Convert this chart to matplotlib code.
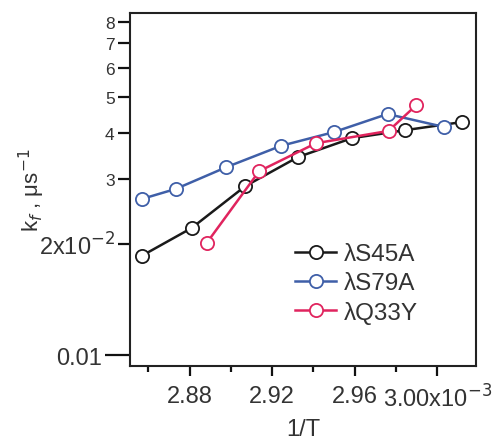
# kf vs 1/T for the three lambda repressor mutants (log scale)
import matplotlib
matplotlib.use('Agg')
import matplotlib.pyplot as plt
from matplotlib.ticker import FixedLocator, FixedFormatter

plt.rcParams['font.family'] = ['Liberation Sans', 'DejaVu Sans']
plt.rcParams.update({
    'xtick.bottom': True, 'xtick.top': False,
    'ytick.left': True, 'ytick.right': False,
    'xtick.direction': 'out', 'ytick.direction': 'out',
    'xtick.major.size': 7.5, 'xtick.minor.size': 4.5,
    'ytick.major.size': 18, 'ytick.minor.size': 9,
    'xtick.major.width': 1.6, 'xtick.minor.width': 1.6,
    'ytick.major.width': 1.6, 'ytick.minor.width': 1.6,
    'xtick.color': '#111111', 'ytick.color': '#111111',
    'xtick.labelcolor': '#333333', 'ytick.labelcolor': '#333333',
})

# 1/T values, in units of 1e-3 K^-1
invT_s45a = [2.857, 2.881, 2.907, 2.9325, 2.9586, 2.9846, 3.012]
kf_s45a = [0.0186, 0.0221, 0.0287, 0.0344, 0.0387, 0.0407, 0.0428]

invT_s79a = [2.857, 2.8733, 2.8978, 2.9243, 2.9499, 2.9759, 3.0034]
kf_s79a = [0.0265, 0.0282, 0.0323, 0.0369, 0.0402, 0.0450, 0.0415]

invT_q33y = [2.8882, 2.9137, 2.9412, 2.9764, 2.9899]
kf_q33y = [0.0201, 0.0315, 0.0375, 0.0405, 0.0476]

series = [
    (invT_s45a, kf_s45a, '#1a1a1a', 'λS45A'),
    (invT_s79a, kf_s79a, '#3f5fa8', 'λS79A'),
    (invT_q33y, kf_q33y, '#e0245e', 'λQ33Y'),
]

# only 0.01 is a major y tick, the rest are labelled minors
y_major = [0.01]
y_minor = [0.02, 0.03, 0.04, 0.05, 0.06, 0.07, 0.08]
y_minor_labels = ['2x10$^{-2}$', '3', '4', '5', '6', '7', '8']
x_ticks = [2.88e-3, 2.92e-3, 2.96e-3, 3.00e-3]
x_labels = ['2.88', '2.92', '2.96', '3.00x10$^{-3}$']
x_minor = [2.86e-3, 2.90e-3, 2.94e-3, 2.98e-3]

fig = plt.figure(figsize=(4.99, 4.39), dpi=100)
ax = fig.add_axes([0.2605, 0.164, 0.6935, 0.804])

for xs, ys, col, name in series:
    ax.plot([v * 1e-3 for v in xs], ys, color=col, lw=1.8, marker='o',
            ms=9.5, mfc='white', mec=col, mew=1.3, label=name)

ax.set_yscale('log')
ax.set_ylim(0.00934, 0.0845)
ax.set_xlim(2.8511e-3, 3.0188e-3)

ax.yaxis.set_major_locator(FixedLocator(y_major))
ax.yaxis.set_major_formatter(FixedFormatter(['0.01']))
ax.yaxis.set_minor_locator(FixedLocator(y_minor))
ax.yaxis.set_minor_formatter(FixedFormatter(y_minor_labels))

ax.xaxis.set_major_locator(FixedLocator(x_ticks))
ax.xaxis.set_major_formatter(FixedFormatter(x_labels))
ax.xaxis.set_minor_locator(FixedLocator(x_minor))

ax.tick_params(axis='x', which='major', labelsize=17, pad=6)
ax.tick_params(axis='y', which='major', labelsize=17, pad=2)
ax.tick_params(axis='y', which='minor', labelsize=12.5, pad=2)

for i, t in enumerate(ax.yaxis.get_minor_ticks()):
    if i == 0:
        t.label1.set_fontsize(17)

for s in ax.spines.values():
    s.set_linewidth(1.5)
    s.set_color('#222222')

ax.set_xlabel('1/T', fontsize=17, color='#333333', labelpad=4)
ax.set_ylabel('k$_f$ , μs$^{-1}$', fontsize=16, color='#333333', labelpad=-6)

ax.legend(loc='upper left', bbox_to_anchor=(0.477, 0.348), frameon=False,
          fontsize=17.5, borderpad=0, borderaxespad=0, handlelength=1.7,
          handletextpad=0.3, labelspacing=0.28, labelcolor='#333333')

fig.savefig('out.png', dpi=100)
